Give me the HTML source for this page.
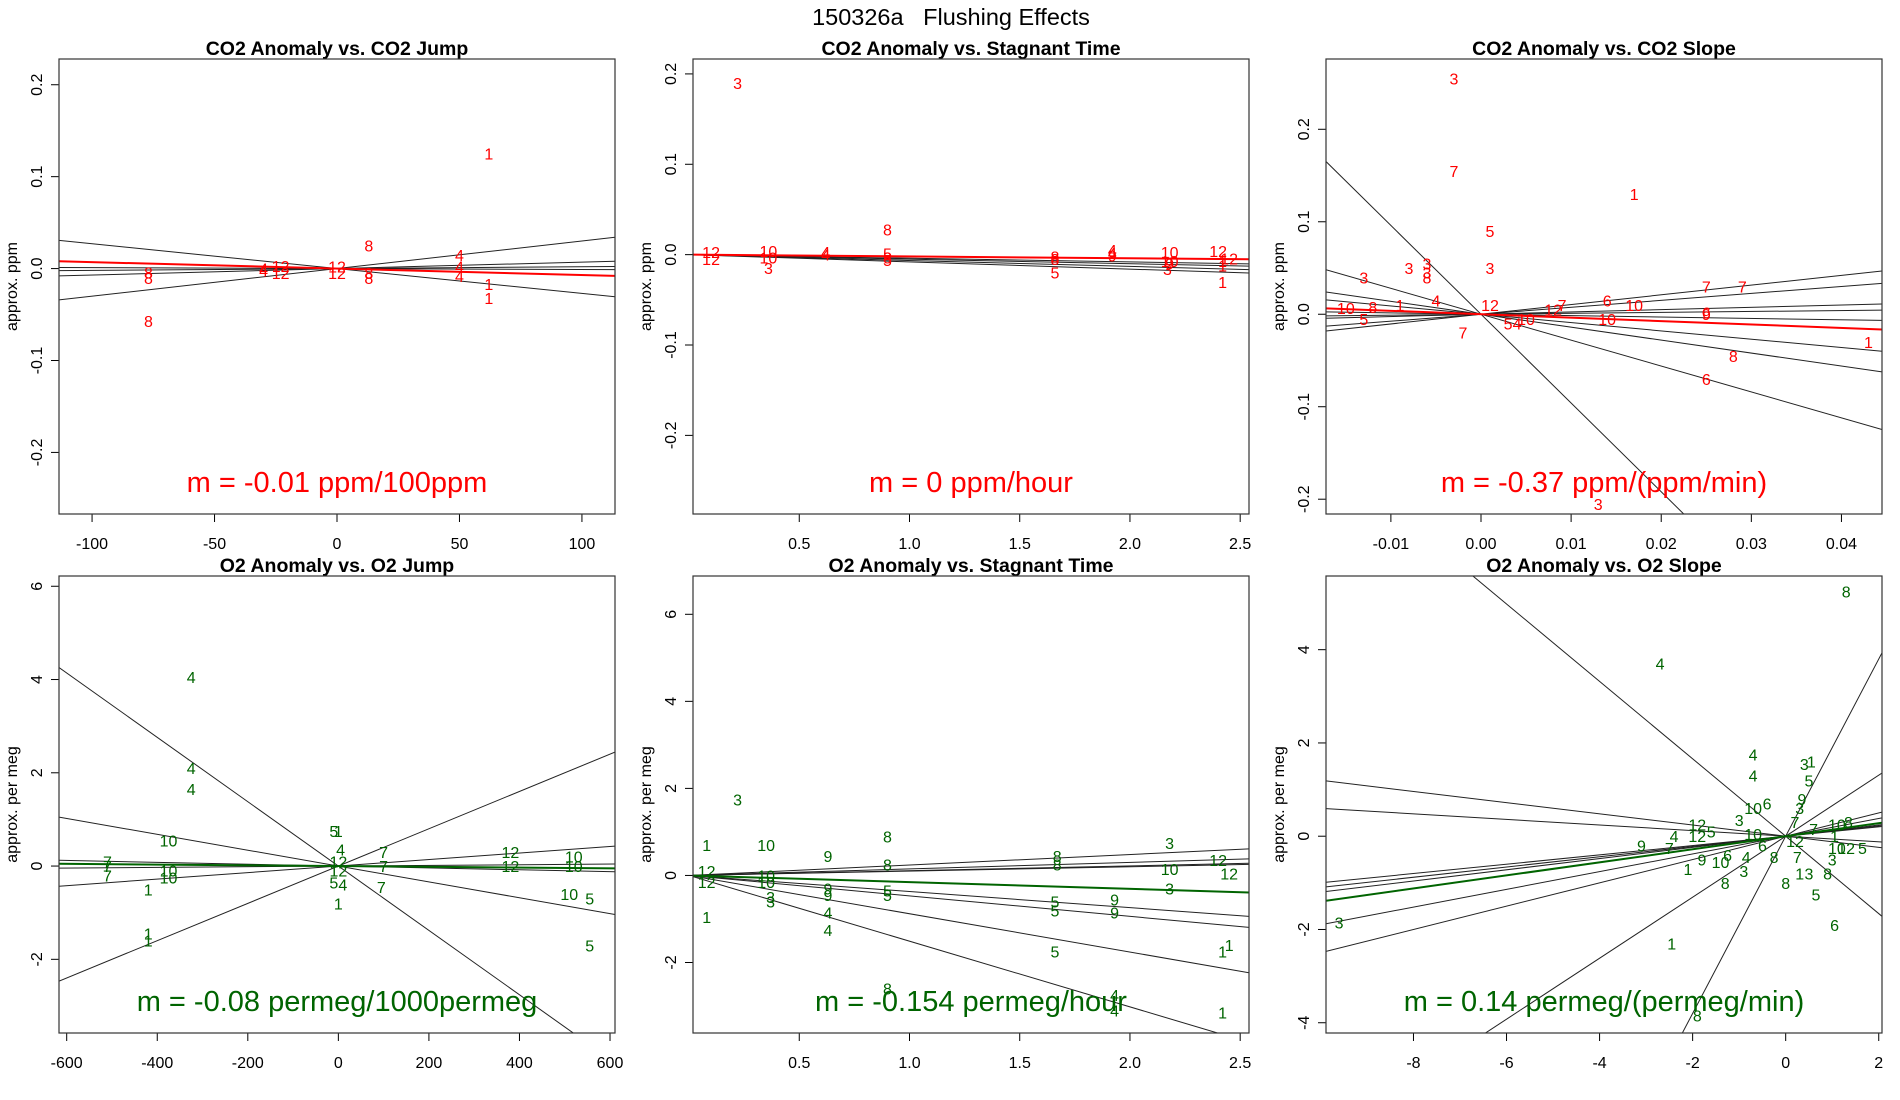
<!DOCTYPE html>
<html><head><meta charset="utf-8"><title>150326a Flushing Effects</title>
<style>
html,body{margin:0;padding:0;background:#fff;width:1900px;height:1100px;overflow:hidden;}
svg{display:block;font-family:"Liberation Sans",sans-serif;}
</style></head>
<body>
<svg id="chart" width="1900" height="1100" viewBox="0 0 1900 1100" xmlns="http://www.w3.org/2000/svg">
<rect width="1900" height="1100" fill="#fff"/>
<text x="951" y="25" font-size="23.5" text-anchor="middle" fill="#000" style="white-space:pre">150326a   Flushing Effects</text>
</svg>
<script>
// ---------- data ----------
// Panel 1: CO2 Anomaly vs CO2 Jump
const p1Labels = ['1','1','1','4','4','4','4','4','8','8','8','8','8','8','12','12','12','12'];
const p1X = [62,62,62,50,50,50,-30,-30,13,13,13,-77,-77,-77,-23,-23,0,0];
const p1Y = [0.125,-0.017,-0.032,0.015,0.002,-0.008,0.0,-0.002,0.025,-0.005,-0.01,-0.004,-0.01,-0.057,0.003,-0.005,0.002,-0.005];
const p1Slopes = [-0.00027,0.0003,0.00007,0.00002,-0.00001];
const p1Fit = -0.00007;
const p1XTicks = [-100,-50,0,50,100];
const p1YTicks = [-0.2,-0.1,0.0,0.1,0.2];

// Panel 2: CO2 Anomaly vs Stagnant Time
const p2Labels = ['3','3','3','12','12','12','12','10','10','10','10','4','4','4','4','8','8','8','8','5','5','5','9','9','1','1','1'];
const p2X = [0.22,0.36,2.17,0.1,0.1,2.4,2.45,0.36,0.36,2.18,2.18,0.62,0.62,1.92,1.92,0.9,0.9,1.66,1.66,0.9,0.9,1.66,1.92,2.18,2.42,2.42,2.42];
const p2Y = [0.19,-0.015,-0.016,0.003,-0.005,0.004,-0.004,0.004,-0.003,0.003,-0.007,0.003,0.0,0.005,0.002,0.028,-0.003,-0.002,-0.005,0.001,-0.006,-0.02,-0.001,-0.01,-0.007,-0.012,-0.03];
const p2Slopes = [-0.002,-0.004,-0.005,-0.0065,-0.008];
const p2Fit = -0.002;
const p2XTicks = [0.5,1.0,1.5,2.0,2.5];
const p2YTicks = [-0.2,-0.1,0.0,0.1,0.2];

// Panel 3: CO2 Anomaly vs CO2 Slope
const p3Labels = ['3','3','3','3','3','3','3','7','7','7','7','7','1','1','1','5','5','5','8','8','8','6','6','6','10','10','10','10','4','4','12','12','9'];
const p3X = [-0.003,-0.013,-0.008,-0.006,-0.006,0.001,0.013,-0.003,0.025,0.029,-0.002,0.009,0.017,0.043,-0.009,0.001,-0.013,0.003,-0.006,0.028,-0.012,0.025,0.014,0.025,-0.015,0.017,0.014,0.005,-0.005,0.004,0.001,0.008,0.025];
const p3Y = [0.255,0.04,0.05,0.055,0.045,0.05,-0.205,0.155,0.03,0.03,-0.02,0.01,0.13,-0.03,0.01,0.09,-0.005,-0.01,0.04,-0.045,0.008,-0.07,0.015,0.002,0.007,0.01,-0.005,-0.005,0.015,-0.01,0.01,0.005,0.0];
const p3Slopes = [-9.6,-2.8,-1.4,-0.9,1.05,0.75,0.25,0.1,-0.15];
const p3Fit = -0.37;
const p3XTicks = [-0.01,0.00,0.01,0.02,0.03,0.04];
const p3YTicks = [-0.2,-0.1,0.0,0.1,0.2];

// Panel 4: O2 Anomaly vs O2 Jump
const p4Labels = ['4','4','4','4','4','10','10','10','10','10','10','7','7','7','7','7','7','1','1','1','1','1','5','5','5','5','12','12','12','12'];
const p4X = [-325,-325,-325,5,10,-375,-375,-375,520,520,510,-510,-510,-510,100,100,95,-420,-420,-420,0,0,-10,555,555,-10,380,380,0,0];
const p4Y = [4.05,2.1,1.65,0.35,-0.4,0.55,-0.1,-0.25,0.2,0.0,-0.6,0.1,0.0,-0.2,0.3,0.0,-0.45,-0.5,-1.45,-1.6,0.75,-0.8,0.75,-0.7,-1.7,-0.35,0.3,0.0,0.1,-0.1];
const p4Slopes = [-0.0069,0.004,-0.0017,0.0007,-0.0002,0.00007];
const p4Fit = -0.00008;
const p4XTicks = [-600,-400,-200,0,200,400,600];
const p4YTicks = [-2,0,2,4,6];

// Panel 5: O2 Anomaly vs Stagnant Time
const p5Labels = ['3','3','3','3','3','1','1','1','1','1','10','10','10','10','9','9','9','9','9','8','8','8','8','8','4','4','4','4','5','5','5','5','5','12','12','12','12'];
const p5X = [0.22,0.37,0.37,2.18,2.18,0.08,0.08,2.45,2.42,2.42,0.35,0.35,0.35,2.18,0.63,0.63,0.63,1.93,1.93,0.9,0.9,0.9,1.67,1.67,0.63,0.63,1.93,1.93,0.9,0.9,1.66,1.66,1.66,0.08,0.08,2.4,2.45];
const p5Y = [1.75,-0.5,-0.6,0.75,-0.3,0.7,-0.95,-1.6,-1.75,-3.15,0.7,0.0,-0.15,0.15,0.45,-0.3,-0.45,-0.55,-0.85,0.9,0.25,-2.6,0.45,0.25,-0.85,-1.25,-2.75,-3.1,-0.35,-0.45,-0.6,-0.8,-1.75,0.1,-0.15,0.35,0.05];
const p5Slopes = [0.24,0.15,0.11,0.1,-0.37,-0.47,-0.88,-1.51];
const p5Fit = -0.154;
const p5XTicks = [0.5,1.0,1.5,2.0,2.5];
const p5YTicks = [-2,0,2,4,6];

// Panel 6: O2 Anomaly vs O2 Slope
const p6Labels = ['8','8','8','8','8','8','8','4','4','4','4','4','3','3','3','3','3','3','3','1','1','1','1','1','5','5','5','5','9','9','9','10','10','10','10','10','6','6','6','6','12','12','12','12','7','7','7','7'];
const p6X = [1.3,-1.9,-1.3,0,0.9,-0.25,1.35,-2.7,-0.7,-0.7,-2.4,-0.85,-9.6,-1.0,0.4,0.3,-0.9,1.0,0.5,0.55,-2.45,-2.1,0.3,1.05,0.5,-1.6,0.65,1.65,0.35,-3.1,-1.8,-0.7,-1.4,-0.7,1.1,1.1,-0.4,1.05,-1.25,-0.5,-1.9,-1.9,1.3,0.2,-2.5,0.25,0.2,0.6];
const p6Y = [5.25,-3.85,-1.0,-1.0,-0.8,-0.45,0.3,3.7,1.75,1.3,0.0,-0.45,-1.85,0.35,1.55,0.6,-0.75,-0.5,-0.8,1.6,-2.3,-0.7,-0.8,0.0,1.2,0.1,-1.25,-0.25,0.8,-0.2,-0.5,0.6,-0.55,0.05,0.25,-0.25,0.7,-1.9,-0.4,-0.2,0.25,0.0,-0.25,-0.1,-0.25,-0.45,0.3,0.15];
const p6Slopes = [-0.83,0.654,1.9,-0.12,-0.06,0.1,0.11,0.12,0.19,0.25];
const p6Fit = 0.14;
const p6XTicks = [-8,-6,-4,-2,0,2];
const p6YTicks = [-4,-2,0,2,4];

// ---------- drawing ----------
const NS = 'http://www.w3.org/2000/svg';
const svgRoot = document.getElementById('chart');
function mk(tag, attrs, parent){
  const e = document.createElementNS(NS, tag);
  for (const k in attrs) e.setAttribute(k, attrs[k]);
  (parent||svgRoot).appendChild(e);
  return e;
}
function fmt(v, dec){ return v < 0 ? '-' + Math.abs(v).toFixed(dec) : v.toFixed(dec); }

function drawPanel(idx, box, xr, yr, title, ylab, xt, xdec, yt, ydec, labels, xs, ys, slopes, fit, col, mtext){
  const g = mk('g', {});
  
  
  const sx = v => box.x0 + (v - xr[0]) / (xr[1] - xr[0]) * (box.x1 - box.x0);
  const sy = v => box.y1 - (v - yr[0]) / (yr[1] - yr[0]) * (box.y1 - box.y0);
  const cid = 'clip' + idx;
  const cp = mk('clipPath', {id: cid}, g);
  mk('rect', {x: box.x0, y: box.y0, width: box.x1 - box.x0, height: box.y1 - box.y0}, cp);

  const t = mk('text', {x: (box.x0 + box.x1) / 2, y: box.y0 - 4, 'font-size': 19.5, 'font-weight': 'bold', 'text-anchor': 'middle', fill: '#000'}, g);
  
  
  t.textContent = title;

  xt.forEach(v => {
    const x = sx(v);
    const tk = mk('line', {x1: x, x2: x, y1: box.y1, y2: box.y1 + 8, stroke: '#000', 'stroke-width': 1}, g);
    
    
    const tl = mk('text', {x: x, y: box.y1 + 35, 'font-size': 16, 'text-anchor': 'middle', fill: '#000'}, g);
    
    
    tl.textContent = fmt(v, xdec);
  });
  yt.forEach(v => {
    const y = sy(v);
    const tk = mk('line', {x1: box.x0 - 8, x2: box.x0, y1: y, y2: y, stroke: '#000', 'stroke-width': 1}, g);
    
    
    const lx = box.x0 - 17;
    const tl = mk('text', {x: lx, y: y, 'font-size': 16, 'text-anchor': 'middle', fill: '#000', transform: 'rotate(-90 ' + lx + ' ' + y + ')'}, g);
    
    
    tl.textContent = fmt(v, ydec);
  });
  const ax = box.x0 - 42, ay = (box.y0 + box.y1) / 2;
  const yl = mk('text', {x: ax, y: ay, 'font-size': 16, 'text-anchor': 'middle', fill: '#000', transform: 'rotate(-90 ' + ax + ' ' + ay + ')'}, g);
  
  
  yl.textContent = ylab;

  const pg = mk('g', {'clip-path': 'url(#' + cid + ')'}, g);
  slopes.forEach(m => {
    const ln = mk('line', {x1: sx(xr[0]), y1: sy(m * xr[0]), x2: sx(xr[1]), y2: sy(m * xr[1]), stroke: '#222', 'stroke-width': 1}, pg);
    
    
  });
  labels.forEach((lb, i) => {
    const tx = mk('text', {x: sx(xs[i]), y: sy(ys[i]) + 6, 'font-size': 16, 'text-anchor': 'middle', fill: col}, pg);
    
    
    tx.textContent = lb;
  });
  const fl = mk('line', {x1: sx(xr[0]), y1: sy(fit * xr[0]), x2: sx(xr[1]), y2: sy(fit * xr[1]), stroke: col, 'stroke-width': 2}, pg);
  
  

  const mt = mk('text', {x: (box.x0 + box.x1) / 2, y: box.y1 - 22, 'font-size': 29, 'text-anchor': 'middle', fill: col}, g);
  
  
  mt.textContent = mtext;

  const bx = mk('rect', {x: box.x0, y: box.y0, width: box.x1 - box.x0, height: box.y1 - box.y0, fill: 'none', stroke: '#333', 'stroke-width': 1.2}, g);
  
  
}

const RED = '#ff0000', GREEN = '#006400';
const rowTop = {y0: 59, y1: 514}, rowBot = {y0: 576, y1: 1033};
const c1 = {x0: 59, x1: 615}, c2 = {x0: 693, x1: 1249}, c3 = {x0: 1326, x1: 1882};

drawPanel(1, {x0: c1.x0, x1: c1.x1, y0: rowTop.y0, y1: rowTop.y1}, [-113.5, 113.5], [-0.267, 0.228], 'CO2 Anomaly vs. CO2 Jump', 'approx. ppm', p1XTicks, 0, p1YTicks, 1, p1Labels, p1X, p1Y, p1Slopes, p1Fit, RED, 'm = -0.01 ppm/100ppm');
drawPanel(2, {x0: c2.x0, x1: c2.x1, y0: rowTop.y0, y1: rowTop.y1}, [0.018, 2.54], [-0.287, 0.2165], 'CO2 Anomaly vs. Stagnant Time', 'approx. ppm', p2XTicks, 1, p2YTicks, 1, p2Labels, p2X, p2Y, p2Slopes, p2Fit, RED, 'm = 0 ppm/hour');
drawPanel(3, {x0: c3.x0, x1: c3.x1, y0: rowTop.y0, y1: rowTop.y1}, [-0.0172, 0.0445], [-0.216, 0.276], 'CO2 Anomaly vs. CO2 Slope', 'approx. ppm', p3XTicks, 2, p3YTicks, 1, p3Labels, p3X, p3Y, p3Slopes, p3Fit, RED, 'm = -0.37 ppm/(ppm/min)');
drawPanel(4, {x0: c1.x0, x1: c1.x1, y0: rowBot.y0, y1: rowBot.y1}, [-617, 611], [-3.58, 6.22], 'O2 Anomaly vs. O2 Jump', 'approx. per meg', p4XTicks, 0, p4YTicks, 0, p4Labels, p4X, p4Y, p4Slopes, p4Fit, GREEN, 'm = -0.08 permeg/1000permeg');
drawPanel(5, {x0: c2.x0, x1: c2.x1, y0: rowBot.y0, y1: rowBot.y1}, [0.018, 2.54], [-3.62, 6.88], 'O2 Anomaly vs. Stagnant Time', 'approx. per meg', p5XTicks, 1, p5YTicks, 0, p5Labels, p5X, p5Y, p5Slopes, p5Fit, GREEN, 'm = -0.154 permeg/hour');
drawPanel(6, {x0: c3.x0, x1: c3.x1, y0: rowBot.y0, y1: rowBot.y1}, [-9.88, 2.07], [-4.22, 5.58], 'O2 Anomaly vs. O2 Slope', 'approx. per meg', p6XTicks, 0, p6YTicks, 0, p6Labels, p6X, p6Y, p6Slopes, p6Fit, GREEN, 'm = 0.14 permeg/(permeg/min)');
</script>
</body></html>
